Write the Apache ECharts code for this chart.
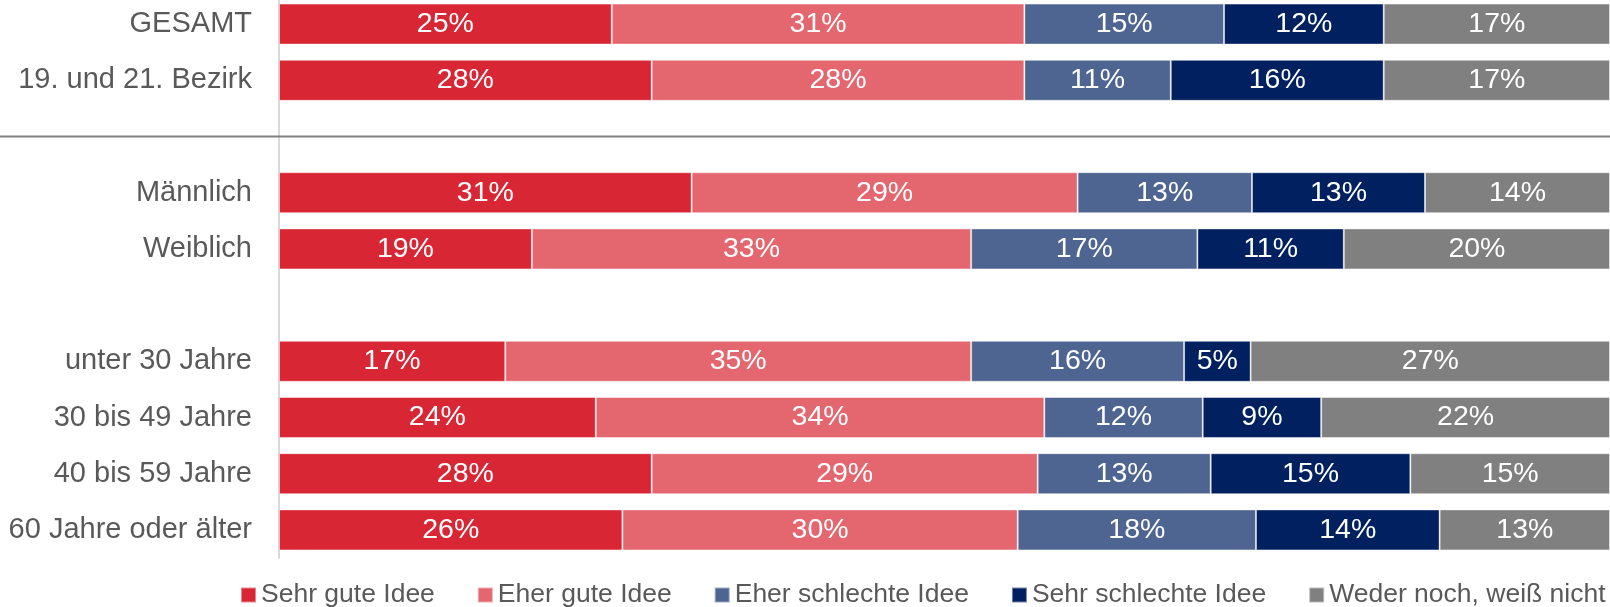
<!DOCTYPE html>
<html>
<head>
<meta charset="utf-8">
<script src="https://cdn.jsdelivr.net/npm/echarts@6/dist/echarts.min.js"></script>
<style>
html,body{margin:0;padding:0;background:#fff;}
#chart{width:1610px;height:607px;}
</style>
</head>
<body>
<div id="chart"></div>
<script>
const categories = ['GESAMT', '19. und 21. Bezirk', '', 'Männlich', 'Weiblich', ' ', 'unter 30 Jahre', '30 bis 49 Jahre', '40 bis 59 Jahre', '60 Jahre oder älter'];
const seriesNames = ['Sehr gute Idee', 'Eher gute Idee', 'Eher schlechte Idee', 'Sehr schlechte Idee', 'Weder noch, weiß nicht'];
const sehrGut      = [25, 28, null, 31,   19, null, 17, 23.8, 28, 25.8];
const eherGut      = [31, 28, null, 29,   33, null, 35, 33.7, 29, 29.7];
const eherSchlecht = [15, 11, null, 13.1, 17, null, 16, 11.9, 13, 17.9];
const sehrSchlecht = [12, 16, null, 13,   11, null, 5,  8.9,  15, 13.8];
const weder        = [17, 17, null, 13.9, 20, null, 27, 21.7, 15, 12.8];
const colors = ['#d82634', '#e46770', '#4e6491', '#00205f', '#808080'];
const values = [sehrGut, eherGut, eherSchlecht, sehrSchlecht, weder];

const FONT = "'Liberation Sans', Arial, sans-serif";
const chart = echarts.init(document.getElementById('chart'), null, {renderer: 'canvas'});

const series = seriesNames.map((name, i) => ({
  name: name,
  type: 'bar',
  stack: 'total',
  barWidth: 41,
  data: values[i],
  itemStyle: {color: colors[i], borderColor: 'rgba(255,255,255,0.45)', borderWidth: 1},
  label: {
    show: true,
    position: 'inside',
    color: '#ffffff',
    fontSize: 28.5,
    fontFamily: FONT,
    formatter: p => (p.value == null ? '' : Math.round(p.value) + '%')
  },
  emphasis: {disabled: true}
}));

chart.setOption({
  animation: false,
  color: colors,
  grid: {left: 279, right: 0, top: -4, bottom: 49, containLabel: false, outerBoundsMode: 'none'},
  xAxis: {type: 'value', min: 0, max: 100, show: false},
  yAxis: {
    type: 'category',
    inverse: true,
    data: categories,
    axisLine: {show: true, lineStyle: {color: '#d9d9d9', width: 2}},
    axisTick: {show: false},
    splitLine: {show: false},
    axisLabel: {color: '#595959', fontSize: 29, fontFamily: FONT, margin: 27}
  },
  legend: {
    left: 240,
    top: 580,
    width: 3000,
    padding: 0,
    itemWidth: 15,
    itemHeight: 15,
    itemGap: 42,
    icon: 'rect',
    selectedMode: false,
    textStyle: {color: '#595959', fontSize: 26.5, fontFamily: FONT, lineHeight: 30},
    data: seriesNames
  },
  series: series
});

const ySep = chart.convertToPixel({yAxisIndex: 0}, 2);
chart.setOption({
  graphic: [{
    type: 'line',
    z: 10,
    shape: {x1: 0, y1: ySep, x2: chart.getWidth(), y2: ySep},
    style: {stroke: '#808080', lineWidth: 2}
  }]
});
</script>
</body>
</html>
